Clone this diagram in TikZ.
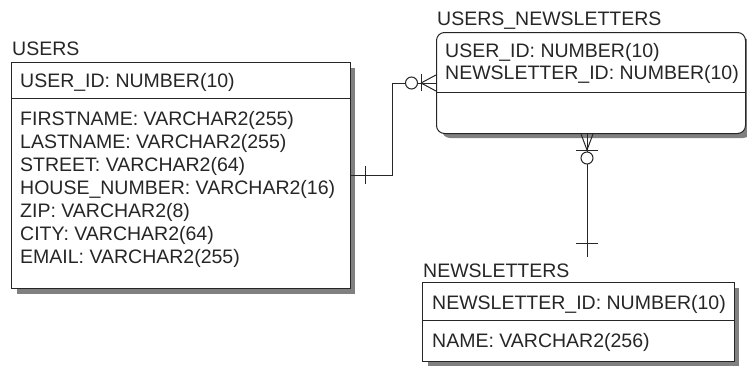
\documentclass[tikz,border=0pt]{standalone}
\usepackage{fontspec}
\setmainfont{Liberation Sans}
\begin{document}
\begin{tikzpicture}[x=1pt,y=-1pt]
\tikzset{
  shad/.style={fill=black!50, draw=none},
  tbl/.style={draw=black!85, fill=white, line width=1pt, inner sep=0pt, anchor=north west},
  lbl/.style={anchor=base west, inner sep=0pt, font=\fontsize{19.5}{22}\selectfont, text=black!85},
  rel/.style={draw=black!85, line width=1pt},
}
\useasboundingbox (0,0) rectangle (747,365);

% ---------- USERS ----------
\fill[shad] (17,68) rectangle (355,294);
\node[tbl, minimum width=339pt, minimum height=226pt] (users) at (11,62) {};
\draw[rel] (11,98) -- (350,98);
\node[lbl] (usersT) at (12,55) {USERS};
\node[lbl] (u1) at (20,87) {USER\_ID: NUMBER(10)};
\node[lbl] (u2) at (20,125) {FIRSTNAME: VARCHAR2(255)};
\node[lbl] (u3) at (20,148) {LASTNAME: VARCHAR2(255)};
\node[lbl] (u4) at (20,171) {STREET: VARCHAR2(64)};
\node[lbl] (u5) at (20,194) {HOUSE\_NUMBER: VARCHAR2(16)};
\node[lbl] (u6) at (20,217) {ZIP: VARCHAR2(8)};
\node[lbl] (u7) at (20,240) {CITY: VARCHAR2(64)};
\node[lbl] (u8) at (20,263) {EMAIL: VARCHAR2(255)};

% ---------- USERS_NEWSLETTERS ----------
\fill[shad, rounded corners=8pt] (442,38) rectangle (751,138);
\node[tbl, rounded corners=8pt, minimum width=309pt, minimum height=101pt] (un) at (436,32) {};
\draw[rel] (436,92) -- (745,92);
\node[lbl] (unT) at (437,25) {USERS\_NEWSLETTERS};
\node[lbl] (un1) at (445,57) {USER\_ID: NUMBER(10)};
\node[lbl] (un2) at (445,79) {NEWSLETTER\_ID: NUMBER(10)};

% ---------- NEWSLETTERS ----------
\fill[shad] (428,288) rectangle (739,366);
\node[tbl, minimum width=312pt, minimum height=79pt] (nl) at (422,282) {};
\draw[rel] (422,320) -- (734,320);
\node[lbl] (nlT) at (423,277) {NEWSLETTERS};
\node[lbl] (nl1) at (432,309) {NEWSLETTER\_ID: NUMBER(10)};
\node[lbl] (nl2) at (432,347) {NAME: VARCHAR2(256)};

% ---------- USERS -> USERS_NEWSLETTERS ----------
\coordinate (j1) at (392,175);
\coordinate (j2) at (392,83);
\draw[rel] (users.east |- j1) -- (j1) -- (j2) -- (un.west |- j2);
\draw[rel] (365,166) -- (365,184);
\draw[rel, fill=white] (411.5,83) circle[radius=6pt];
\draw[rel] (421,74) -- (421,91);
\coordinate (cf1) at (421,83);
\draw[rel] (cf1) -- (436,75);
\draw[rel] (cf1) -- (436,91);

% ---------- USERS_NEWSLETTERS -> NEWSLETTERS ----------
\coordinate (k1) at (587,133);
\coordinate (k2) at (587,257);
\draw[rel] (un.south -| k1) -- (k2);
\coordinate (cf2) at (587,150);
\draw[rel] (cf2) -- (581,134);
\draw[rel] (cf2) -- (593,134);
\draw[rel] (576,150) -- (598,150);
\draw[rel, fill=white] (587,158) circle[radius=6pt];
\draw[rel] (576,243) -- (598,243);
\end{tikzpicture}
\end{document}
